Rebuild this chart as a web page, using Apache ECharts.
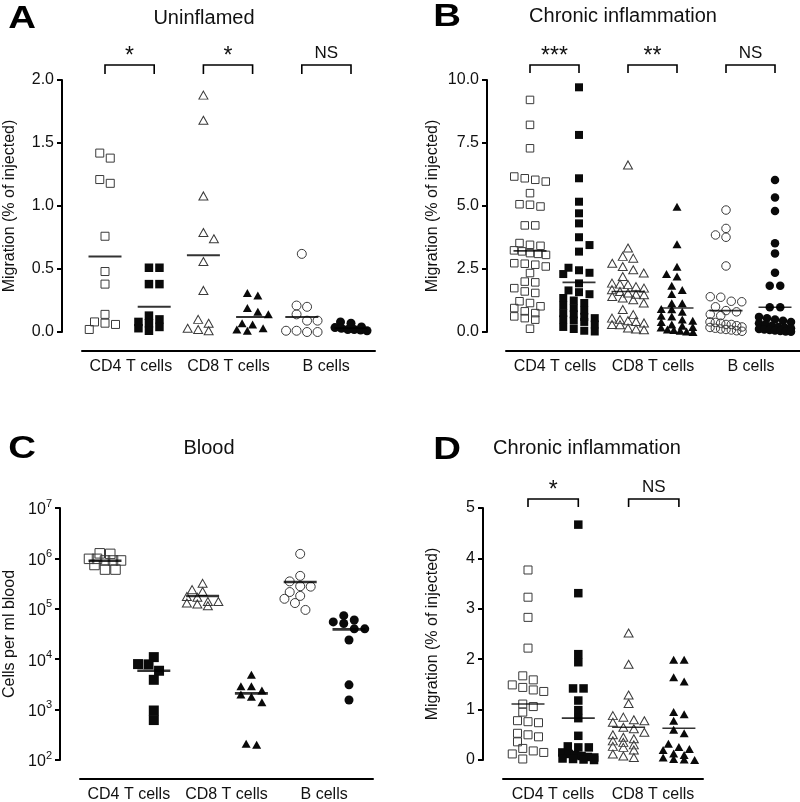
<!DOCTYPE html>
<html>
<head>
<meta charset="utf-8">
<script src="https://cdn.jsdelivr.net/npm/echarts@6/dist/echarts.min.js"></script>
<style>html,body{margin:0;padding:0;background:#fff}#c{width:800px;height:802px}</style>
</head>
<body>
<div id="c"></div>
<script>
// ---------------- DATA ----------------
const catsABC = ['CD4 T cells', 'CD8 T cells', 'B cells'];
const catsD = ['CD4 T cells', 'CD8 T cells'];

// Panel A: Uninflamed (% of injected)
const aCD4Open   = [1.42,1.38,1.21,1.18,0.76,0.48,0.38,0.14,0.08,0.07,0.06,0.02];
const aCD4Filled = [0.51,0.51,0.38,0.38,0.13,0.10,0.08,0.07,0.04,0.03,0.01];
const aCD8Open   = [1.88,1.68,1.08,0.79,0.74,0.56,0.33,0.10,0.07,0.03,0.02,0.01];
const aCD8Filled = [0.31,0.29,0.19,0.16,0.14,0.07,0.06,0.03,0.02,0.01];
const aBOpen     = [0.62,0.21,0.20,0.14,0.09,0.09,0.01,0.00,0.00,0.01];
const aBFilled   = [0.08,0.07,0.04,0.035,0.03,0.02,0.02,0.015,0.01];
const aMeans     = [0.60,0.20,0.61,0.12,0.12,0.03];
const aSig       = ['*','*','NS'];
const aTicks     = [0,0.5,1.0,1.5,2.0];

// Panel B: Chronic inflammation (% of injected)
const bCD4Open   = [9.21,8.22,7.29,6.17,6.10,6.04,5.97,5.51,5.07,5.05,4.98,4.23,4.23,3.53,3.46,3.42,3.24,3.20,3.13,3.10,3.06,2.73,2.71,2.67,2.60,2.34,2.00,1.97,1.74,1.61,1.55,1.22,1.15,1.02,0.95,0.82,0.75,0.62,0.55,0.49,0.13];
const bCD4Filled = [9.71,7.82,6.10,5.17,4.71,4.31,3.76,3.45,3.19,2.55,2.45,2.35,2.30,1.93,1.65,1.58,1.50,1.35,1.25,1.15,1.05,0.95,0.85,0.75,0.70,0.60,0.55,0.50,0.45,0.40,0.30,0.20,0.12,0.05,0.02];
const bCD8Open   = [6.63,3.33,3.00,2.93,2.73,2.60,2.47,2.34,2.20,1.94,1.90,1.88,1.80,1.74,1.68,1.61,1.55,1.50,1.48,1.41,1.35,1.28,1.15,0.89,0.69,0.55,0.49,0.45,0.42,0.36,0.30,0.29,0.16,0.12,0.09];
const bCD8Filled = [4.97,3.48,2.59,2.30,2.20,1.84,1.67,1.51,1.14,1.14,0.91,0.90,0.80,0.64,0.62,0.50,0.45,0.40,0.30,0.25,0.20,0.18,0.10,0.08,0.05,0.02,0.00];
const bBOpen     = [4.84,4.11,3.85,3.76,2.62,1.40,1.38,1.22,1.20,1.00,0.85,0.80,0.70,0.65,0.40,0.38,0.35,0.30,0.30,0.25,0.20,0.18,0.15,0.12,0.10,0.08,0.05,0.03];
const bBFilled   = [6.03,5.34,4.80,3.52,3.12,2.35,1.84,1.84,0.98,0.98,0.60,0.55,0.50,0.45,0.40,0.35,0.30,0.25,0.20,0.18,0.15,0.12,0.10,0.08,0.06,0.04,0.02,0.01];
const bMeans     = [3.22,1.97,1.61,0.95,0.85,0.98];
const bSig       = ['***','**','NS'];
const bTicks     = [0,2.5,5.0,7.5,10.0];

// Panel C: Blood (cells per ml)
const cCD4Open   = [1.26e6,1.23e6,9.8e5,9.8e5,9.1e5,9.1e5,9.1e5,7.4e5,6.0e5,6.0e5];
const cCD4Filled = [1.1e4,8.0e3,7.9e3,5.9e3,3.9e3,960,620];
const cCD8Open   = [3.2e5,2.4e5,2.2e5,1.75e5,1.7e5,1.4e5,1.4e5,1.3e5,1.25e5,1.15e5];
const cCD8Filled = [4.9e3,2.9e3,2.9e3,2.4e3,2.0e3,1.8e3,1.4e3,210,200];
const cBOpen     = [1.23e6,4.5e5,3.5e5,2.8e5,2.75e5,2.15e5,1.8e5,1.58e5,1.3e5,9.5e4];
const cBFilled   = [7.3e4,6.0e4,5.5e4,5.1e4,4.0e4,4.0e4,2.4e4,3.1e3,1.55e3];
const cMeans     = [9.0e5,5.9e3,1.8e5,2.1e3,3.4e5,3.9e4];
const cTicks     = [1e2,1e3,1e4,1e5,1e6,1e7];

// Panel D: Chronic inflammation (% of injected)
const dCD4Open   = [3.77,3.23,2.83,2.22,1.67,1.59,1.49,1.44,1.39,1.36,1.11,1.06,0.95,0.78,0.76,0.74,0.53,0.50,0.46,0.36,0.23,0.18,0.15,0.12,0.02];
const dCD4Filled = [4.67,3.31,2.10,1.94,1.42,1.42,1.18,0.99,0.83,0.48,0.27,0.25,0.25,0.15,0.12,0.10,0.08,0.06,0.05,0.03,0.02,0.01,0.00];
const dCD8Open   = [2.52,1.90,1.29,1.12,0.88,0.85,0.80,0.78,0.75,0.65,0.62,0.55,0.50,0.45,0.42,0.38,0.35,0.30,0.27,0.25,0.20,0.12,0.08,0.05];
const dCD8Filled = [1.99,1.99,1.64,1.56,0.95,0.91,0.78,0.60,0.53,0.32,0.26,0.22,0.20,0.13,0.10,0.05,0.02,0.01,0.00];
const dMeans     = [1.11,0.83,0.65,0.63];
const dSig       = ['*','NS'];
const dTicks     = [0,1,2,3,4,5];

// ---------------- LAYOUT / STYLE ----------------
const FONT = "'Liberation Sans', Arial, Helvetica, sans-serif";
const migName = 'Migration (% of injected)';
const shapes6 = ['rect','rect','triangle','triangle','circle','circle'];

const panels = [
  {letter:'A', title:'Uninflamed', cats:catsABC, groups:[aCD4Open,aCD4Filled,aCD8Open,aCD8Filled,aBOpen,aBFilled], means:aMeans, sig:aSig, ticks:aTicks, dec:1, log:false, yName:migName,
   L:{axisX:62, top:80, h:252, first:105, step:49.2, right:375, baseL:82, baseR:375, baseY:351, letterX:22, letterY:19, titleX:204, titleY:18, nameGap:44, brGap:15, brLeg:9, meanH:2, sq:8, circ:9}},
  {letter:'B', title:'Chronic inflammation', cats:catsABC, groups:[bCD4Open,bCD4Filled,bCD8Open,bCD8Filled,bBOpen,bBFilled], means:bMeans, sig:bSig, ticks:bTicks, dec:1, log:false, yName:migName,
   L:{axisX:487, top:80, h:252, first:530, step:49.0, right:800, baseL:506, baseR:800, baseY:351, letterX:447, letterY:17, titleX:623, titleY:16, nameGap:46, brGap:15, brLeg:8, meanH:1.6, sq:7.5, circ:8.5}},
  {letter:'C', title:'Blood', cats:catsABC, groups:[cCD4Open,cCD4Filled,cCD8Open,cCD8Filled,cBOpen,cBFilled], means:cMeans, sig:null, ticks:cTicks, dec:0, log:true, yName:'Cells per ml blood',
   L:{axisX:60, top:508, h:252, first:105, step:48.8, right:373, baseL:80, baseR:373, baseY:779, letterX:22, letterY:449, titleX:209, titleY:448, nameGap:42, brGap:0, brLeg:0, meanH:2.6, sq:9.5, circ:9}},
  {letter:'D', title:'Chronic inflammation', cats:catsD, groups:[dCD4Open,dCD4Filled,dCD8Open,dCD8Filled], means:dMeans, sig:dSig, ticks:dTicks, dec:0, log:false, yName:migName,
   L:{axisX:483, top:508, h:252, first:528, step:50.3, right:703, baseL:503, baseR:703, baseY:779, letterX:447, letterY:450, titleX:587, titleY:448, nameGap:42, brGap:9, brLeg:8, meanH:1.6, sq:8, circ:8.5}}
];

// Beeswarm layout: near-equal values form a symmetric row; each row (highest first)
// takes the most central free slot on a half-spacing lattice, else the least overlapping.
function swarm(values, toPx, sp, symH, maxHalf, tiePx) {
  const sorted = values.slice().sort((a, b) => b - a);
  const clusters = []; let cur = null;
  sorted.forEach(v => {
    const py = toPx(v);
    if (!cur || cur.top - py >= tiePx) { cur = {top: py, m: []}; clusters.push(cur); }
    cur.m.push({v: v, y: py});
  });
  const half = sp / 2;
  const placed = [];
  clusters.forEach(cl => {
    const n = cl.m.length;
    const s = n > 1 ? Math.min(sp, 2 * maxHalf / (n - 1)) : 0;
    const rel = cl.m.map((_, k) => (k - (n - 1) / 2) * s);
    const lim = Math.max(0, maxHalf - (n - 1) / 2 * s);
    const K = Math.floor(lim / half + 1e-6);
    const bal = placed.reduce((acc, q) => acc + q.x, 0);
    const cands = [0];
    for (let k = 1; k <= K; k++) {
      if (bal > 0) cands.push(-k * half, k * half); else cands.push(k * half, -k * half);
    }
    let chosen = null, bestPen = Infinity, bestC = 0;
    for (const c of cands) {
      let pen = 0;
      cl.m.forEach((pt, k) => {
        const x = c + rel[k];
        for (const q of placed) {
          const dx = Math.abs(x - q.x), dy = Math.abs(pt.y - q.y);
          if (dx < sp * 0.92 && dy < symH * 0.92) pen += (sp - dx) * (symH - dy);
        }
      });
      if (pen === 0) { chosen = c; break; }
      if (pen < bestPen) { bestPen = pen; bestC = c; }
    }
    if (chosen === null) chosen = bestC;
    cl.m.forEach((pt, k) => placed.push({x: chosen + rel[k], y: pt.y, v: pt.v}));
  });
  return placed.map(q => [q.x, q.v]);
}

const option = {animation: false, backgroundColor: '#fff', grid: [], xAxis: [], yAxis: [], series: [], graphic: []};

panels.forEach((P, p) => {
  const L = P.L;
  const gi = 2 * p, gl = 2 * p + 1;
  const xMin = (L.axisX - L.first) / L.step, xMax = (L.right - L.first) / L.step;
  const yMin = P.ticks[0], yMax = P.ticks[P.ticks.length - 1];
  option.grid.push({left: L.axisX, top: L.top, width: L.right - L.axisX, height: L.h});
  option.grid.push({left: L.baseL, top: L.baseY - 1, width: L.baseR - L.baseL, height: 1});
  option.xAxis.push({type: 'value', gridIndex: gi, min: xMin, max: xMax, show: false});
  option.xAxis.push({type: 'category', gridIndex: gl, data: P.cats,
    axisLine: {lineStyle: {color: '#000', width: 2}}, axisTick: {show: false},
    axisLabel: {fontSize: 16, color: '#111', margin: 8, fontFamily: FONT, interval: 0, hideOverlap: false}});
  const yAx = {
    gridIndex: gi, min: yMin, max: yMax,
    name: P.yName, nameLocation: 'middle', nameGap: L.nameGap, nameRotate: 90,
    nameTextStyle: {fontSize: 16, color: '#111', fontFamily: FONT},
    axisLine: {show: true, onZero: false, lineStyle: {color: '#000', width: 2}},
    axisTick: {show: true, length: 5, lineStyle: {color: '#000', width: 2}},
    splitLine: {show: false},
    axisLabel: {fontSize: 16, color: '#111', margin: 8, fontFamily: FONT}
  };
  if (P.log) {
    yAx.type = 'log'; yAx.logBase = 10;
    yAx.axisLabel.formatter = v => '{b|10}{s|' + Math.round(Math.log10(v)) + '}';
    yAx.axisLabel.rich = {
      b: {fontSize: 16, fontFamily: FONT, color: '#111', verticalAlign: 'bottom'},
      s: {fontSize: 11, fontFamily: FONT, color: '#111', verticalAlign: 'bottom', padding: [0, 0, 9, 0]}
    };
    yAx.minorTick = {show: false};
  } else {
    yAx.type = 'value'; yAx.interval = P.ticks[1] - P.ticks[0];
    yAx.axisLabel.formatter = v => v.toFixed(P.dec);
  }
  option.yAxis.push(yAx);
  option.yAxis.push({type: 'value', gridIndex: gl, show: false});

  const toPx = P.log ? (v => Math.log10(Math.max(v, 1)) * L.h / (Math.log10(yMax) - Math.log10(yMin)))
                     : (v => v * L.h / (yMax - yMin));

  P.groups.forEach((vals, g) => {
    const shape = shapes6[g];
    const filled = g % 2 === 1;
    const size = shape === 'rect' ? (filled ? L.sq + 0.5 : L.sq) : (shape === 'triangle' ? [9, 8] : L.circ);
    const pts = swarm(vals, toPx, 10.5, 8.5, 16, 5.5).map(([off, v]) => [g + off / L.step, v]);
    option.series.push({
      type: 'scatter', xAxisIndex: gi, yAxisIndex: gi, data: pts,
      symbol: shape, symbolSize: size, silent: true, z: 3,
      itemStyle: filled ? {color: '#0a0a0a', opacity: 1}
                        : {color: 'rgba(255,255,255,0)', borderColor: '#3a3a3a', borderWidth: 1, opacity: 1}
    });
  });

  option.series.push({
    type: 'scatter', xAxisIndex: gi, yAxisIndex: gi,
    data: P.means.map((m, g) => [g, m]),
    symbol: 'rect', symbolSize: [33, L.meanH], silent: true, z: 5,
    itemStyle: {color: '#000'}
  });

  if (P.sig) {
    const sig = P.sig;
    option.series.push({
      type: 'custom', xAxisIndex: gi, yAxisIndex: gi, clip: false, silent: true, z: 6,
      data: sig.map((s, i) => [2 * i, 2 * i + 1]),
      renderItem: (params, api) => {
        const x1 = api.coord([api.value(0), yMin])[0];
        const x2 = api.coord([api.value(1), yMin])[0];
        const top = params.coordSys.y - L.brGap;
        const label = sig[params.dataIndex];
        const stars = /^\*+$/.test(label);
        return {type: 'group', children: [
          {type: 'polyline', shape: {points: [[x1, top + L.brLeg], [x1, top], [x2, top], [x2, top + L.brLeg]]},
           style: {stroke: '#000', lineWidth: 1.6, fill: null}},
          {type: 'text', x: (x1 + x2) / 2, y: stars ? top + 3 : top - 3,
           style: {text: label, align: 'center', verticalAlign: 'bottom',
                   fontSize: stars ? 23 : 17, fontFamily: FONT, fill: '#111'}}
        ]};
      }
    });
  }

  option.graphic.push({type: 'text', x: L.letterX, y: L.letterY, scaleX: 1.2,
    style: {text: P.letter, align: 'center', verticalAlign: 'middle', fontSize: 32, fontWeight: 'bold', fontFamily: FONT, fill: '#000'}});
  option.graphic.push({type: 'text', x: L.titleX, y: L.titleY,
    style: {text: P.title, align: 'center', verticalAlign: 'middle', fontSize: 20, fontFamily: FONT, fill: '#111'}});
});

const chart = echarts.init(document.getElementById('c'), null, {renderer: 'canvas'});
chart.setOption(option);
</script>
</body>
</html>
